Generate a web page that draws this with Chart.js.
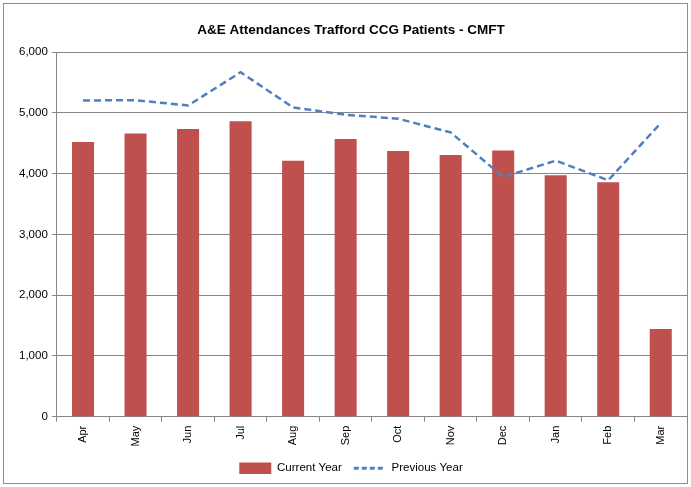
<!DOCTYPE html>
<html>
<head>
<meta charset="utf-8">
<script src="https://cdn.jsdelivr.net/npm/chart.js@4.4.1/dist/chart.umd.min.js"></script>
<style>
html,body{margin:0;padding:0;background:#fff;}
#wrap{width:691px;height:487px;position:relative;}
</style>
</head>
<body>
<div id="wrap"><canvas id="c" width="691" height="487"></canvas></div>
<script>
const months = ['Apr','May','Jun','Jul','Aug','Sep','Oct','Nov','Dec','Jan','Feb','Mar'];
const currentYear = [4520, 4663, 4734, 4865, 4215, 4570, 4373, 4307, 4384, 3974, 3859, 1445];
const previousYear = [5205, 5210, 5123, 5670, 5090, 4970, 4905, 4680, 3946, 4215, 3892, 4833];
const yTicks = [0, 1000, 2000, 3000, 4000, 5000, 6000];

const FONT = "'Liberation Sans', 'DejaVu Sans', sans-serif";
const LINE_DASH = [7, 4];

const borderPlugin = {
  id: 'outerBorder',
  beforeDraw(chart) {
    const ctx = chart.ctx;
    ctx.save();
    ctx.fillStyle = '#fff';
    ctx.fillRect(0, 0, chart.width, chart.height);
    ctx.strokeStyle = '#8c8c8c';
    ctx.lineWidth = 1;
    ctx.strokeRect(3.5, 3.5, 684, 480);
    ctx.restore();
  }
};

new Chart(document.getElementById('c'), {
  type: 'bar',
  data: {
    labels: months,
    datasets: [
      {
        type: 'bar',
        label: 'Current Year',
        data: currentYear,
        backgroundColor: '#C0504D',
        borderWidth: 0,
        barPercentage: 0.42,
        categoryPercentage: 1.0,
        pointStyle: 'rect',
        order: 2
      },
      {
        type: 'line',
        label: 'Previous Year',
        data: previousYear,
        borderColor: '#4F81BD',
        backgroundColor: '#4F81BD',
        borderWidth: 2.5,
        borderDash: LINE_DASH,
        pointRadius: 0,
        pointHoverRadius: 0,
        tension: 0,
        fill: false,
        pointStyle: 'line',
        order: 1
      }
    ]
  },
  options: {
    responsive: false,
    animation: false,
    layout: { padding: { left: 15, right: 4, top: 8, bottom: 3 } },
    plugins: {
      title: {
        display: true,
        text: 'A&E Attendances Trafford CCG Patients - CMFT',
        color: '#000',
        font: { family: FONT, size: 13.5, weight: 'bold' },
        padding: { top: 14, bottom: 14 }
      },
      legend: {
        position: 'bottom',
        labels: {
          usePointStyle: true,
          pointStyleWidth: 32,
          boxHeight: 12,
          color: '#000',
          font: { family: FONT, size: 11.5 },
          padding: 12,
          sort: (a, b) => a.datasetIndex - b.datasetIndex,
          generateLabels(chart) {
            const items = Chart.defaults.plugins.legend.labels.generateLabels(chart);
            items.forEach(it => {
              const ds = chart.data.datasets[it.datasetIndex];
              if (ds.type === 'line') {
                it.lineDash = [5, 3];
                it.lineWidth = 3;
                it.strokeStyle = ds.borderColor;
              } else {
                it.lineWidth = 0;
              }
            });
            return items;
          }
        }
      },
      tooltip: { enabled: false }
    },
    scales: {
      x: {
        offset: true,
        grid: {
          display: true,
          offset: true,
          drawOnChartArea: false,
          drawTicks: true,
          tickLength: 5,
          color: '#868686'
        },
        border: { display: true, color: '#868686' },
        ticks: {
          color: '#000',
          font: { family: FONT, size: 11 },
          maxRotation: 90,
          minRotation: 90,
          padding: 4
        }
      },
      y: {
        min: 0,
        max: 6000,
        afterBuildTicks(scale) { scale.ticks = yTicks.map(v => ({ value: v })); },
        grid: {
          color: '#868686',
          drawTicks: true,
          tickLength: 5
        },
        border: { display: true, color: '#868686' },
        ticks: {
          color: '#000',
          font: { family: FONT, size: 11.5 },
          padding: 4,
          callback: v => v.toLocaleString('en-US')
        }
      }
    }
  },
  plugins: [borderPlugin]
});
</script>
</body>
</html>
